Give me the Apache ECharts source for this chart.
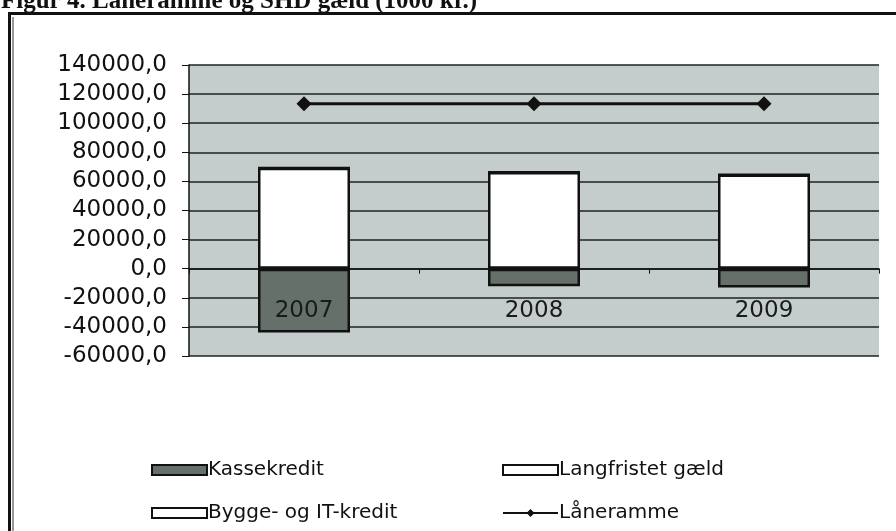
<!DOCTYPE html>
<html><head><meta charset="utf-8">
<script src="https://cdn.jsdelivr.net/npm/echarts@6/dist/echarts.min.js"></script>
<style>html,body{margin:0;padding:0;background:#fff;}#c{width:896px;height:531px;}</style>
</head><body><div id="c"></div>
<script>
const titleText = 'Figur 4. Låneramme og SHD gæld (1000 kr.)';
const categories = ['2007', '2008', '2009'];
const kassekredit = [-43800, -12000, -13000];
const langfristet = [69400, 66400, 64800];
const byggeIT = [0, 0, 0];
const laaneramme = [113400, 113400, 113400];
const yTicks = {min: -60000, max: 140000, interval: 20000};

const chart = echarts.init(document.getElementById('c'), null, {renderer: 'canvas'});
const font = 'DejaVu Sans';
chart.setOption({
  animation: false,
  backgroundColor: '#ffffff',
  grid: {left: 189, right: 17, top: 65, bottom: 175, show: true, backgroundColor: '#c4cccc', borderWidth: 0},
  graphic: [
    {type: 'text', left: 1, top: -11, z: 1, style: {text: titleText, font: 'bold 25px "Liberation Serif"', fill: '#111'}},
    {type: 'rect', z: 2, shape: {x: 0, y: 12, width: 896, height: 2}, style: {fill: '#fff'}},
    {type: 'polyline', z: 5, shape: {points: [[9.5, 531], [9.5, 13.5], [896, 13.5]]}, style: {stroke: '#111', lineWidth: 3, fill: null}},
    {type: 'polyline', z: 5, shape: {points: [[13, 531], [13, 17]]}, style: {stroke: '#333', lineWidth: 1, fill: null}}
  ],
  legend: [
    {left: 146, top: 455, orient: 'vertical', itemGap: 23, itemWidth: 55, itemHeight: 10, icon: 'rect', data: ['Kassekredit', 'Bygge- og IT-kredit'],
     textStyle: {fontFamily: font, fontSize: 20, color: '#111', padding: [0, 0, 0, -4]}},
    {left: 497, top: 455, orient: 'vertical', itemGap: 23, itemWidth: 55, itemHeight: 10, data: [{name: 'Langfristet gæld', icon: 'rect'}, 'Låneramme'],
     textStyle: {fontFamily: font, fontSize: 20, color: '#111', padding: [0, 0, 0, -4]}}
  ],
  xAxis: {
    type: 'category', data: categories, z: 10,
    axisLine: {onZero: true, lineStyle: {color: '#111', width: 1.5}},
    axisTick: {show: true, length: 5, lineStyle: {color: '#111'}},
    axisLabel: {margin: -56, fontFamily: font, fontSize: 23, color: '#1a1a1a'},
    splitLine: {show: false}
  },
  yAxis: {
    type: 'value', min: yTicks.min, max: yTicks.max, interval: yTicks.interval,
    axisLine: {show: true, lineStyle: {color: '#111', width: 1.5}},
    axisTick: {show: true, length: 7, lineStyle: {color: '#111'}},
    axisLabel: {margin: 22, fontFamily: font, fontSize: 23, color: '#111',
      formatter: v => v.toFixed(1).replace('.', ',')},
    splitLine: {show: true, lineStyle: {color: '#222', width: 1.5}}
  },
  series: [
    {name: 'Kassekredit', type: 'bar', stack: 'g', barWidth: '40%', data: kassekredit,
     itemStyle: {color: '#66706b', borderColor: '#111', borderWidth: 2.5}},
    {name: 'Langfristet gæld', type: 'bar', stack: 'g', data: langfristet,
     itemStyle: {color: '#ffffff', borderColor: '#111', borderWidth: 2.5}},
    {name: 'Bygge- og IT-kredit', type: 'bar', stack: 'g', data: byggeIT,
     itemStyle: {color: '#ffffff', borderColor: '#111', borderWidth: 2}},
    {name: 'Låneramme', type: 'line', data: laaneramme, symbol: 'diamond', symbolSize: 15,
     lineStyle: {color: '#111', width: 3}, itemStyle: {color: '#111'}}
  ]
});
</script></body></html>
